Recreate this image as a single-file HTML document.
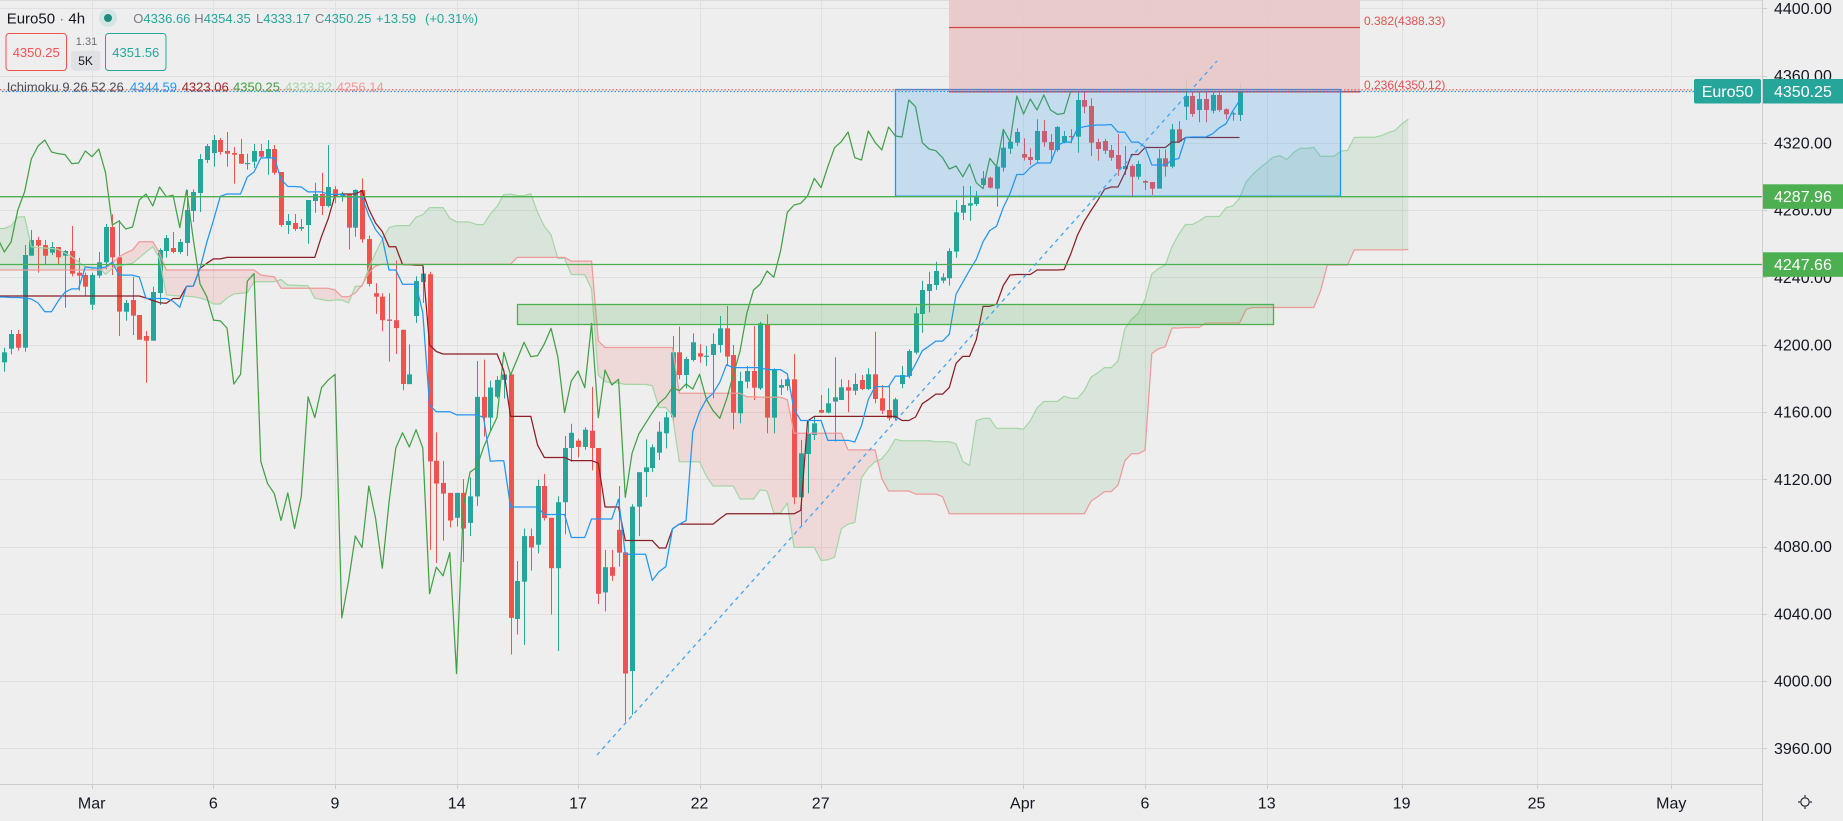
<!DOCTYPE html>
<html><head><meta charset="utf-8">
<style>
html,body{margin:0;padding:0;background:#eeeeee;overflow:hidden;}
svg{display:block;font-family:"Liberation Sans",Arial,sans-serif;}
</style></head>
<body>
<svg id="c" width="1843" height="821" viewBox="0 0 1843 821" xmlns="http://www.w3.org/2000/svg">
<rect width="1843" height="821" fill="#eeeeee"/>
<line x1="0" y1="0.5" x2="1843" y2="0.5" stroke="#dcdcdc"/>
<g id="grid" stroke="#e0e0e0" stroke-width="1"></g>
<g id="cloud"></g>
<g id="candles"></g>
<g id="lines" fill="none" stroke-width="1.25" stroke-linejoin="round"></g>
<g id="draw">
  <rect x="949" y="0" width="411" height="91.7" fill="#e9c6c6" fill-opacity="0.9"/>
  <line x1="949" y1="27.5" x2="1360" y2="27.5" stroke="#d64545" stroke-width="1.2"/>
  <line x1="949" y1="91.8" x2="1360" y2="91.8" stroke="#e53935" stroke-width="1.5"/>
  <text x="1364" y="24.8" font-size="12" fill="#e05252">0.382(4388.33)</text>
  <text x="1364" y="89" font-size="12" fill="#e05252">0.236(4350.12)</text>
  <rect x="895.5" y="89.5" width="445" height="106.7" fill="#2196f3" fill-opacity="0.2" stroke="#2196f3" stroke-width="1.3"/>
  <rect x="517.5" y="304.5" width="756" height="20" fill="#4caf50" fill-opacity="0.2" stroke="#4caf50" stroke-width="1.3"/>
  <line x1="0" y1="196.7" x2="1762" y2="196.7" stroke="#4caf50" stroke-width="1.3"/>
  <line x1="0" y1="264.5" x2="1762" y2="264.5" stroke="#4caf50" stroke-width="1.3"/>
  <line x1="0" y1="89.8" x2="1694" y2="89.8" stroke="#ef5350" stroke-width="1.2" stroke-dasharray="1.5 2"/>
  <line x1="0" y1="91.5" x2="1694" y2="91.5" stroke="#2196f3" stroke-width="1.2" stroke-dasharray="1.5 2" stroke-dashoffset="1.5"/>
  <line x1="597" y1="755" x2="1217" y2="61" stroke="#42a5f5" stroke-width="1.3" stroke-dasharray="4 4"/>
</g>

<g>
  <text x="6.7" y="23.5" font-size="15" fill="#131722">Euro50<tspan fill="#787b86"> · </tspan>4h</text>
  <circle cx="108" cy="18" r="9" fill="#d4e6e3"/>
  <circle cx="108" cy="18" r="4" fill="#1f8c80"/>
  <text y="22.8" font-size="13"><tspan x="133.3" fill="#787b86">O</tspan><tspan fill="#26a69a">4336.66</tspan></text>
  <text y="22.8" font-size="13"><tspan x="194.3" fill="#787b86">H</tspan><tspan fill="#26a69a">4354.35</tspan></text>
  <text y="22.8" font-size="13"><tspan x="256" fill="#787b86">L</tspan><tspan fill="#26a69a">4333.17</tspan></text>
  <text y="22.8" font-size="13"><tspan x="315" fill="#787b86">C</tspan><tspan fill="#26a69a">4350.25</tspan></text>
  <text x="376" y="22.8" font-size="13" fill="#26a69a">+13.59</text>
  <text x="425" y="22.8" font-size="13" fill="#26a69a">(+0.31%)</text>

  <rect x="6" y="33.5" width="60.5" height="37" rx="3" fill="#eeeeee" stroke="#ef5350" stroke-width="1"/>
  <text x="36.2" y="56.8" font-size="13" fill="#ef5350" text-anchor="middle">4350.25</text>
  <text x="86.5" y="45" font-size="11" fill="#6a6d78" text-anchor="middle">1.31</text>
  <rect x="71" y="50.7" width="29.3" height="20" rx="3" fill="#e0e1e5"/>
  <text x="85.6" y="65" font-size="12" fill="#131722" text-anchor="middle">5K</text>
  <rect x="105.5" y="33.5" width="60.5" height="37" rx="3" fill="#eeeeee" stroke="#26a69a" stroke-width="1"/>
  <text x="135.8" y="56.8" font-size="13" fill="#26a69a" text-anchor="middle">4351.56</text>

  <text x="6.7" y="91.3" font-size="13" fill="#4a4d57">Ichimoku 9 26 52 26</text>
  <text x="130" y="91.3" font-size="13" fill="#2196f3">4344.59</text>
  <text x="181.7" y="91.3" font-size="13" fill="#9c2a2a">4323.06</text>
  <text x="233" y="91.3" font-size="13" fill="#43a047">4350.25</text>
  <text x="285" y="91.3" font-size="13" fill="#a5d6a7">4333.82</text>
  <text x="336.7" y="91.3" font-size="13" fill="#ef9a9a">4256.14</text>
</g>

<g id="axis"></g>
<g id="labels">
  <rect x="1694" y="79" width="67" height="24.5" rx="2" fill="#26a69a"/>
  <text x="1727.5" y="96.8" font-size="16" fill="#ffffff" text-anchor="middle">Euro50</text>
  <rect x="1763" y="79" width="80" height="24.5" fill="#26a69a"/>
  <text x="1774" y="96.8" font-size="16" fill="#ffffff">4350.25</text>
  <rect x="1763" y="184.3" width="80" height="24.5" fill="#4caf50"/>
  <text x="1774" y="202.2" font-size="16" fill="#ffffff">4287.96</text>
  <rect x="1763" y="252.3" width="80" height="24.5" fill="#4caf50"/>
  <text x="1774" y="270.2" font-size="16" fill="#ffffff">4247.66</text>
  <g stroke="#131722" stroke-width="1.1" fill="none">
    <circle cx="1805" cy="802" r="4.2"/>
    <line x1="1805" y1="795" x2="1805" y2="797"/>
    <line x1="1805" y1="807" x2="1805" y2="809"/>
    <line x1="1798" y1="802" x2="1800" y2="802"/>
    <line x1="1810" y1="802" x2="1812" y2="802"/>
  </g>
</g>
</svg>
<script>
(function(){
const svg=document.getElementById('c');
const NS='http://www.w3.org/2000/svg';
function el(tag,a,p){const e=document.createElementNS(NS,tag);for(const k in a)e.setAttribute(k,a[k]);(p||svg).appendChild(e);return e;}
const G=id=>document.getElementById(id);
const X=i=>4.3+6.75*i;
const PY=p=>8.3+(4400-p)*1.682;

const gx=[91.7,213.3,335,456.7,578,699.5,820.7,1022.5,1145,1266.7,1401.6,1536.5,1671.3];
const gl=['Mar','6','9','14','17','22','27','Apr','6','13','19','25','May'];
for(let p=4400;p>=3960;p-=40){const y=Math.round(PY(p))+0.5;el('line',{x1:0,x2:1762,y1:y,y2:y},G('grid'));}
gx.forEach(x=>{const xx=Math.round(x)+0.5;el('line',{x1:xx,x2:xx,y1:0,y2:784},G('grid'));});

const SEG={z4:[0,120,3],z5:[330,220,2.895],z6:[655,60,3],z7:[985,60,3],r:[0,0,1]};
const D=[
['z4',[
[1,697,727,683,755],[1,642,686,630,703],[0,642,683,630,692],[1,405,683,375,695],[1,360,407,330,407],
[0,360,377,350,458],[0,375,407,360,432],[1,381,398,366,405],[0,381,412,381,432],[1,393,407,390,563],
[0,393,461,318,469],[0,458,467,413,512],[0,465,500,458,528],[1,465,554,458,570],[1,427,467,396,474],
[1,321,427,312,448],[0,321,412,283,465],[0,412,575,300,648],[1,549,575,540,602],[0,540,587,470,645],
[0,585,659,585,659],[0,648,662,633,788],[1,516,662,500,662],[1,390,519,385,555],[1,354,393,345,413],
[0,384,396,336,400],[1,366,396,357,402],[1,270,369,210,408],[1,216,273,208,306],[1,117,219,102,276],
[1,78,120,72,129],[1,60,99,45,140],[0,60,96,54,104],[0,93,101,36,140],[0,99,104,81,191],
[0,102,131,57,131],[1,129,131,101,149],[1,93,125,72,144],[0,93,110,72,113],[1,87,113,60,164],
[0,87,158,75,164],[0,156,315,156,320],[1,303,315,282,342],[0,309,327,282,333],[1,321,326,297,333],
[1,240,315,240,371],[1,222,243,188,278],[0,222,258,158,285],[1,201,258,75,262]]],
['r',[
[0,189.3,196.7,186,203.3],[1,195.2,196.4,191.7,201.7],[0,194,227.7,194,249.3],[1,190,227.7,189.3,236.7],[0,190,239.3,178.3,242.7]]],
['z5',[
[0,55,185,45,192],[0,212,222,183,272],[0,222,290,212,322],[0,288,292,212,410],[0,290,313,117,388],
[0,318,475,318,493],[1,447,475,360,475],[1,177,278,163,298],[1,155,180,135,240],[0,157,699,150,955],
[0,697,763,615,993],[0,761,792,697,928],[0,790,870,790,890],[1,790,862,790,887],[0,790,893,750,990],
[1,800,877,745,915],[1,512,800,408,828],[0,512,572,404,627],[1,485,572,465,610],[1,463,512,452,517],
[1,447,463,447,517],[0,447,1152,447,1258],[1,1045,1155,987,1200],[1,915,1047,893,1230],[0,915,948,893,1015],
[1,770,940,752,965],[0,770,863,735,870],[0,862,1008,862,1142],[1,817,1008,800,1248],[1,660,817,625,910],
[1,616,660,590,700],[0,639,657,633,687],[1,607,657,600,665],[0,610,660,483,725],[0,660,1082,660,1112],
[1,1005,1078,955,1133],[0,1005,1030,955,1045],[0,897,963,770,1003],[0,962,1313,962,1452],[1,830,1306,823,1432],
[1,730,830,730,915],[1,716,730,635,802],[1,658,718,650,730]]],
['z6',[
[1,1115,1178,1085,1200],[1,1072,1120,1055,1165],[1,877,1072,828,1090],[0,877,945,800,958],[1,897,945,890,985],
[1,847,900,820,905],[0,880,890,853,908],[1,887,890,858,918],[1,852,885,820,1015],[1,805,855,768,878],
[0,805,890,738,915],[0,885,1058,855,1108],[1,963,1060,935,1090],[1,933,965,918,985],[0,933,983,798,1020],
[1,790,985,785,990],[0,793,1073,763,1120],[1,930,1073,925,1120],[1,975,983,958,1005],[1,958,978,953,992],
[0,958,1312,882,1333],[1,1180,1312,1140,1400],[1,1122,1182,1080,1300],[1,1090,1125,1070,1140],[0,1050,1058,1005,1060],
[1,1030,1058,985,1060],[1,1012,1025,892,1145],[1,982,1020,958,1020],[0,982,992,960,1057],[1,972,992,940,1005],
[0,960,987,945,990],[1,943,987,925,990],[0,943,1017,815,1030],[0,1015,1052,975,1062],[0,1050,1075,975,1082],
[1,1018,1075,1013,1080],[1,945,972,918,985],[1,873,948,868,955],[1,760,878,742,883],[1,690,762,662,818],
[1,672,693,635,757],[1,633,675,605,690],[1,652,662,640,670],[1,573,655,565,677],[1,457,575,420,593],
[1,435,458,378,480],[1,430,437,378,482],[1,408,432,393,438],[1,355,375,333,380]]],
['z7',[
[0,353,383,350,385],[1,320,386,320,440],[1,263,323,208,335],[1,245,266,238,282],[1,216,248,205,258],
[0,282,293,235,302],[0,291,300,265,315],[1,213,300,178,308],[0,213,247,180,260],[0,246,270,222,305],
[1,201,270,198,275],[1,228,246,213,250],[0,228,231,208,250],[1,120,230,95,278],[0,120,140,85,160],
[0,138,248,115,288],[0,246,267,236,302],[0,243,272,236,282],[0,270,293,255,302],[0,285,327,222,348],
[1,318,327,258,345],[0,318,350,313,408],[1,312,350,302,358],[0,363,368,360,390],[0,366,386,366,405],
[1,295,386,268,386],[0,295,320,268,350],[1,208,320,192,325],[0,208,245,183,248],[1,108,140,57,180],
[0,108,162,90,170],[1,117,150,97,187],[0,117,150,97,187],[1,105,152,97,160],[0,105,150,90,155],
[0,148,163,145,178],[1,160,162,155,182],[1,93,165,72,183]]]
];
const C=[];
D.forEach(([s,rows])=>{const S=SEG[s];rows.forEach(r=>{const f=v=>S[1]+v/S[2];
  const bt=f(r[1]),bb=f(r[2]);
  C.push({up:r[0]===1,bt:bt,bb:bb,wt:f(r[3]),wb:f(r[4]),close:r[0]===1?bt:bb});});});
const N=C.length;

const cg=G('candles');
C.forEach((c,i)=>{
  const x=Math.round(X(i));
  const col=c.up?'#26a69a':'#ef5350';
  el('rect',{x:x,y:c.wt.toFixed(1),width:1,height:Math.max(1,c.wb-c.wt).toFixed(1),fill:col},cg);
  el('rect',{x:x-2,y:c.bt.toFixed(1),width:5,height:Math.max(1.2,c.bb-c.bt).toFixed(1),fill:col},cg);
});

function mid(a,b){let hi=1e9,lo=-1e9;for(let k=a;k<=b;k++){if(C[k].wt<hi)hi=C[k].wt;if(C[k].wb>lo)lo=C[k].wb;}return (hi+lo)/2;}
const TE=[297,297.5,297.5,298,299,303,311.7,311.7];
const KE=[];for(let i=0;i<=20;i++)KE.push(296);KE.push(298,300.5,302.7,303.3);
const AE=[228.5,226,217,216.7,246.7,247.5,248,248.5,249.3,253,256.7,262,266.7,267,267.7,274.3,268.3,265.7,264.5,263.3,257.7,252,246.7,258.3,295,295.5,296,296.3,296.7,298,300,304,304,298,294,293.3,292.7,281.7,281.7,281.7,281.7,279.5,285,285.3,285.5,285.7,298.3,299.5,300.7,300];
const BE=[];for(let j=0;j<=14;j++)BE.push(270);BE.push(268,263.3,256.7,253,250,241.7,241.7,241.7,253.3,270);
for(let j=25;j<=37;j++)BE.push(270);BE.push(275,276,276.7);for(let j=41;j<=48;j++)BE.push(288.3);
BE.push(290,296.7,296.7,293,285,273,266);for(let j=56;j<=75;j++)BE.push(264.2);
const T=[],K=[];
for(let i=0;i<N;i++){T[i]=i>=8?mid(i-8,i):TE[i];K[i]=i>=25?mid(i-25,i):KE[i];}
const A=[],B=[];
for(let j=0;j<N+25;j++){
  A[j]=j>=50?(T[j-25]+K[j-25])/2:AE[j];
  B[j]=j>=76?mid(j-76,j-25):BE[j];
}
const pth=pts=>'M'+pts.map(p=>p[0].toFixed(2)+','+p[1].toFixed(2)).join('L');

let gp='',rp='';
function poly(isG,pts){const s=pth(pts)+'Z';if(isG)gp+=s;else rp+=s;}
const cx=[0],ca=[A[0]],cb=[B[0]];
for(let j=0;j<A.length;j++){cx.push(X(j));ca.push(A[j]);cb.push(B[j]);}
for(let k=0;k<cx.length-1;k++){
  const x0=cx[k],x1=cx[k+1],a0=ca[k],a1=ca[k+1],b0=cb[k],b1=cb[k+1];
  const d0=b0-a0,d1=b1-a1;
  if(d0>=0&&d1>=0)poly(true,[[x0,a0],[x1,a1],[x1,b1],[x0,b0]]);
  else if(d0<=0&&d1<=0)poly(false,[[x0,a0],[x1,a1],[x1,b1],[x0,b0]]);
  else{const t=d0/(d0-d1);const xc=x0+t*(x1-x0),yc=a0+t*(a1-a0);
    poly(d0>0,[[x0,a0],[xc,yc],[x0,b0]]);poly(d1>0,[[xc,yc],[x1,a1],[x1,b1]]);}
}
el('path',{d:gp,fill:'rgb(67,160,71)','fill-opacity':'0.12'},G('cloud'));
el('path',{d:rp,fill:'rgb(244,67,54)','fill-opacity':'0.12'},G('cloud'));

const lg=G('lines');
const spA=[[0,A[0]]],spB=[[0,B[0]]];
for(let j=0;j<A.length;j++){spA.push([X(j),A[j]]);spB.push([X(j),B[j]]);}
el('path',{d:pth(spA),stroke:'#a5d6a7'},lg);
el('path',{d:pth(spB),stroke:'#ef9a9a'},lg);
const tp=[[0,T[0]]],kp=[[0,K[0]]];
for(let i=0;i<N;i++){tp.push([X(i),T[i]]);kp.push([X(i),K[i]]);}
const ch=[];for(let j=-1;j+25<N;j++)ch.push([X(j),C[j+25].close]);
el('path',{d:pth(ch),stroke:'#43a047'},lg);
el('path',{d:pth(kp),stroke:'#8b1f26'},lg);
el('path',{d:pth(tp),stroke:'#2196f3'},lg);

const ax=G('axis');
el('rect',{x:1762,y:0,width:81,height:821,fill:'#eeeeee'},ax);
el('line',{x1:1762.5,x2:1762.5,y1:0,y2:821,stroke:'#cccccc'},ax);
el('line',{x1:0,x2:1762,y1:784.5,y2:784.5,stroke:'#cccccc'},ax);
for(let p=4400;p>=3960;p-=40){const y=PY(p);
  el('line',{x1:1763,x2:1767,y1:Math.round(y)+0.5,y2:Math.round(y)+0.5,stroke:'#cccccc'},ax);
  const t=el('text',{x:1774,y:(y+5.6).toFixed(1),'font-size':16,fill:'#131722'},ax);t.textContent=p.toFixed(2);}
gx.forEach((x,k)=>{const xx=Math.round(x)+0.5;
  el('line',{x1:xx,x2:xx,y1:785,y2:789,stroke:'#cccccc'},ax);
  const t=el('text',{x:x,y:808.5,'font-size':16,fill:'#131722','text-anchor':'middle'},ax);t.textContent=gl[k];});
})();
</script>
</body></html>
